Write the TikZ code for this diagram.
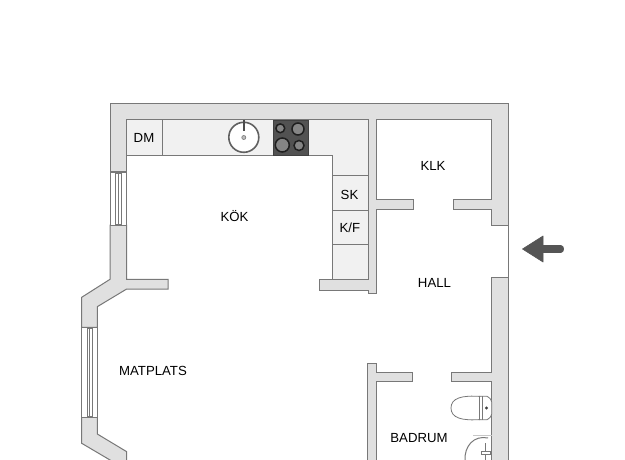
\documentclass[tikz,border=0pt]{standalone}
\usepackage{fontspec}
\setmainfont{Liberation Sans}
\definecolor{wallfill}{HTML}{E0E0E0}
\definecolor{wallline}{HTML}{787878}
\definecolor{counterfill}{HTML}{F1F1F1}
\definecolor{arrowfill}{HTML}{555555}
\tikzset{
  wall/.style={fill=wallfill,draw=wallline,line width=1pt,line join=miter},
  counter/.style={fill=counterfill,draw=wallline,line width=1pt},
  winline/.style={draw=wallline,line width=0.7pt,fill=white},
  fixture/.style={draw=wallline,line width=0.8pt,fill=white},
  room/.style={font=\fontsize{13.2}{15}\selectfont,text=black,inner sep=0pt}
}
\begin{document}
\begin{tikzpicture}[x=1pt,y=-1pt]
\useasboundingbox (0,0) rectangle (625,460);
\fill[white] (0,0) rectangle (625,460);
% counters
\draw[counter] (126.5,119.5) -- (368,119.5) -- (368,279.3) -- (332.7,279.3) -- (332.7,155.3) -- (126.5,155.3) -- cycle;
\draw[wallline,line width=1pt] (162.3,119.5) -- (162.3,155.3)
  (332.7,176) -- (368,176) (332.7,210) -- (368,210) (332.7,244) -- (368,244);
% main wall
\draw[wall] (111.7,461) -- (81.7,443.3) -- (81.7,417.3) -- (97.3,417.3) -- (97.3,434) -- (126.7,451.7) -- (126.7,461) -- cycle;
\draw[wall] (81.7,327.3) -- (81.7,297.3) -- (110,279.3) -- (110,225) -- (126.5,225) -- (126.5,279.3) -- (168,279.3) -- (168,289) -- (126.7,289) -- (97.3,306.7) -- (97.3,327.3) -- cycle;
\draw[wall] (110,172) -- (110,103.5) -- (508.7,103.5) -- (508.7,225.3) -- (491.7,225.3) -- (491.7,209.3) -- (453.7,209.3) -- (453.7,199.7) -- (491.7,199.7) -- (491.7,119.5) -- (376.3,119.5) -- (376.3,199.7) -- (413,199.7) -- (413,209.3) -- (376.3,209.3) -- (376.3,293) -- (368,293) -- (368,290) -- (319.7,290) -- (319.7,279.3) -- (368,279.3) -- (368,119.5) -- (126.5,119.5) -- (126.5,172) -- cycle;
\draw[wall] (491.7,461) -- (491.7,381) -- (451,381) -- (451,372) -- (491.7,372) -- (491.7,277) -- (508.7,277) -- (508.7,461) -- cycle;
\draw[wall] (367.7,461) -- (367.7,363.3) -- (376.3,363.3) -- (376.3,372) -- (412.7,372) -- (412.7,381) -- (376.3,381) -- (376.3,461) -- cycle;
% entrance line
\draw[wallline,line width=1pt] (508.7,225.3) -- (508.7,277);
% windows
\draw[winline] (110,172) rectangle (126.5,225);
\draw[winline] (115.5,173) rectangle (121,224);
\draw[winline] (81.7,327.3) rectangle (97.3,417.3);
\draw[winline] (87,328.5) rectangle (92.5,416);
\draw[wallline,line width=0.5pt] (118.2,173) -- (118.2,224) (89.7,328.5) -- (89.7,416);
% sink
\draw[draw=black!62,fill=white,line width=1.6pt] (243.8,137.3) circle (15);
\draw[draw=black!50,fill=black!25,line width=0.7pt] (243.8,137.5) circle (2);
\draw[black!70,line width=1.5pt] (244,120) -- (244,131.5);
% cooktop
\fill[black!68,draw=black!75,line width=0.5pt] (273,119.8) rectangle (308.5,155.3);
\foreach \cx/\cy/\r in {280.3/128.3/4.4,298/129/6,282.3/145/7,299/145.5/5}{
  \draw[black!88,fill=black!48,line width=1.5pt] (\cx,\cy) circle (\r);
}
% toilet
\draw[fixture] (481,396.5) .. controls (462,395) and (451,398) .. (451,408) .. controls (451,418) and (462,421) .. (481,419.5) -- cycle;
\draw[fixture] (479.5,396.3) -- (487,396.3) .. controls (490,398) and (491.7,400) .. (491.7,402) -- (491.7,414) .. controls (491.7,416) and (490,418) .. (487,419.7) -- (479.5,419.7) -- cycle;
\draw[wallline,line width=0.8pt] (482.5,396.3) -- (482.5,419.7);
\fill[black!75] (486.5,408) circle (1.6);
% basin
\draw[black!22,line width=0.8pt] (473,435.5) -- (491.7,435.5);
\draw[fixture,fill=none,line width=1pt] (488,438) .. controls (474,435) and (464,446) .. (465,461);
\draw[fixture] (481,451) rectangle (490,454.5);
\draw[wallline,line width=0.7pt] (485.5,443) -- (485.5,451) (485.5,454.5) -- (485.5,461);
% arrow
\fill[arrowfill,draw=arrowfill,line join=round,line width=0.6pt] (522.5,249) -- (543,236) -- (543,245.5) -- (561,245.5) .. controls (564.5,245.5) and (564.5,252.5) .. (561,252.5) -- (543,252.5) -- (543,262) -- cycle;
% labels
\node[room] (dm) at (144,137.5) {DM};
\node[room] (kok) at (234.5,216) {KÖK};
\node[room] (klk) at (433,166) {KLK};
\node[room] (sk) at (349.5,194.5) {SK};
\node[room] (kf) at (349.8,227.5) {K/F};
\node[room] (hall) at (434.5,282.5) {HALL};
\node[room] (matplats) at (153,371) {MATPLATS};
\node[room] (badrum) at (419,438) {BADRUM};
\end{tikzpicture}
\end{document}
